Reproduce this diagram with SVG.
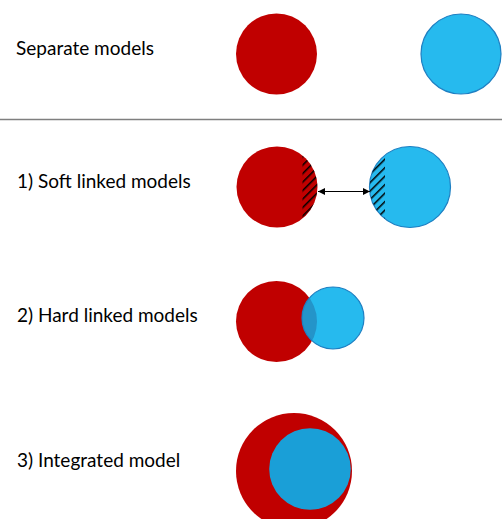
<svg xmlns="http://www.w3.org/2000/svg" width="502" height="519" viewBox="0 0 502 519">
  <style>
    .lbl { font-family: Lato, "Open Sans", sans-serif; font-size: 19px; fill: #000; }
    .red { fill: #C00000; }
    .blue { fill: #26BAEE; stroke: #1E7FC2; stroke-width: 1.2; }
  </style>
  <defs>
    <pattern id="hatch" patternUnits="userSpaceOnUse" width="6" height="6" patternTransform="rotate(45)">
      <line x1="0" y1="0" x2="0" y2="6" stroke="#000" stroke-width="3"/>
    </pattern>
    <clipPath id="clipRed"><circle cx="277" cy="187" r="40.5"/></clipPath>
    <clipPath id="clipBlue"><circle cx="410" cy="187" r="40.5"/></clipPath>
    <clipPath id="clipHardRed"><circle cx="276.5" cy="321.5" r="40.5"/></clipPath>
    <marker id="ah" viewBox="0 0 10 10" refX="10" refY="5" markerWidth="7" markerHeight="7" orient="auto-start-reverse" markerUnits="userSpaceOnUse">
      <path d="M0,0 L10,5 L0,10 Z" fill="#000"/>
    </marker>
  </defs>
  <rect width="502" height="519" fill="#fff"/>

  <g id="separator">
    <line x1="0" y1="119.5" x2="502" y2="119.5" stroke="#7f7f7f" stroke-width="1.5"/>
  </g>

  <g id="labels">
    <text class="lbl" x="16" y="55">Separate models</text>
    <text class="lbl" x="17" y="188">1) Soft linked models</text>
    <text class="lbl" x="17" y="322">2) Hard linked models</text>
    <text class="lbl" x="17" y="467">3) Integrated model</text>
  </g>

  <g id="separate-red"><circle class="red" cx="276.5" cy="54" r="40.5"/></g>
  <g id="separate-blue"><circle class="blue" cx="461" cy="54" r="40"/></g>

  <g id="soft-red">
    <circle class="red" cx="277" cy="187" r="40.5"/>
    <rect x="302.5" y="140" width="20" height="95" fill="url(#hatch)" clip-path="url(#clipRed)"/>
  </g>
  <g id="soft-blue">
    <circle class="blue" cx="410" cy="187" r="40.5"/>
    <rect x="365" y="140" width="20" height="95" fill="url(#hatch)" clip-path="url(#clipBlue)"/>
  </g>

  <g id="hard-red"><circle class="red" cx="276.5" cy="321.5" r="40.5"/></g>
  <g id="hard-blue">
    <circle cx="333" cy="318" r="31" fill="#26BAEE"/>
    <circle cx="333" cy="318" r="31" fill="#2494C9" clip-path="url(#clipHardRed)"/>
    <circle cx="333" cy="318" r="31" fill="none" stroke="#1E7FC2" stroke-width="1.2"/>
  </g>

  <g id="integrated-red"><circle class="red" cx="294" cy="471" r="58"/></g>
  <g id="integrated-blue"><circle cx="310" cy="469" r="40.8" fill="#1A9FD7"/></g>

  <g id="connectors">
    <line x1="318" y1="191.5" x2="370" y2="191.5" stroke="#000" stroke-width="1.2" marker-start="url(#ah)" marker-end="url(#ah)"/>
  </g>
</svg>
